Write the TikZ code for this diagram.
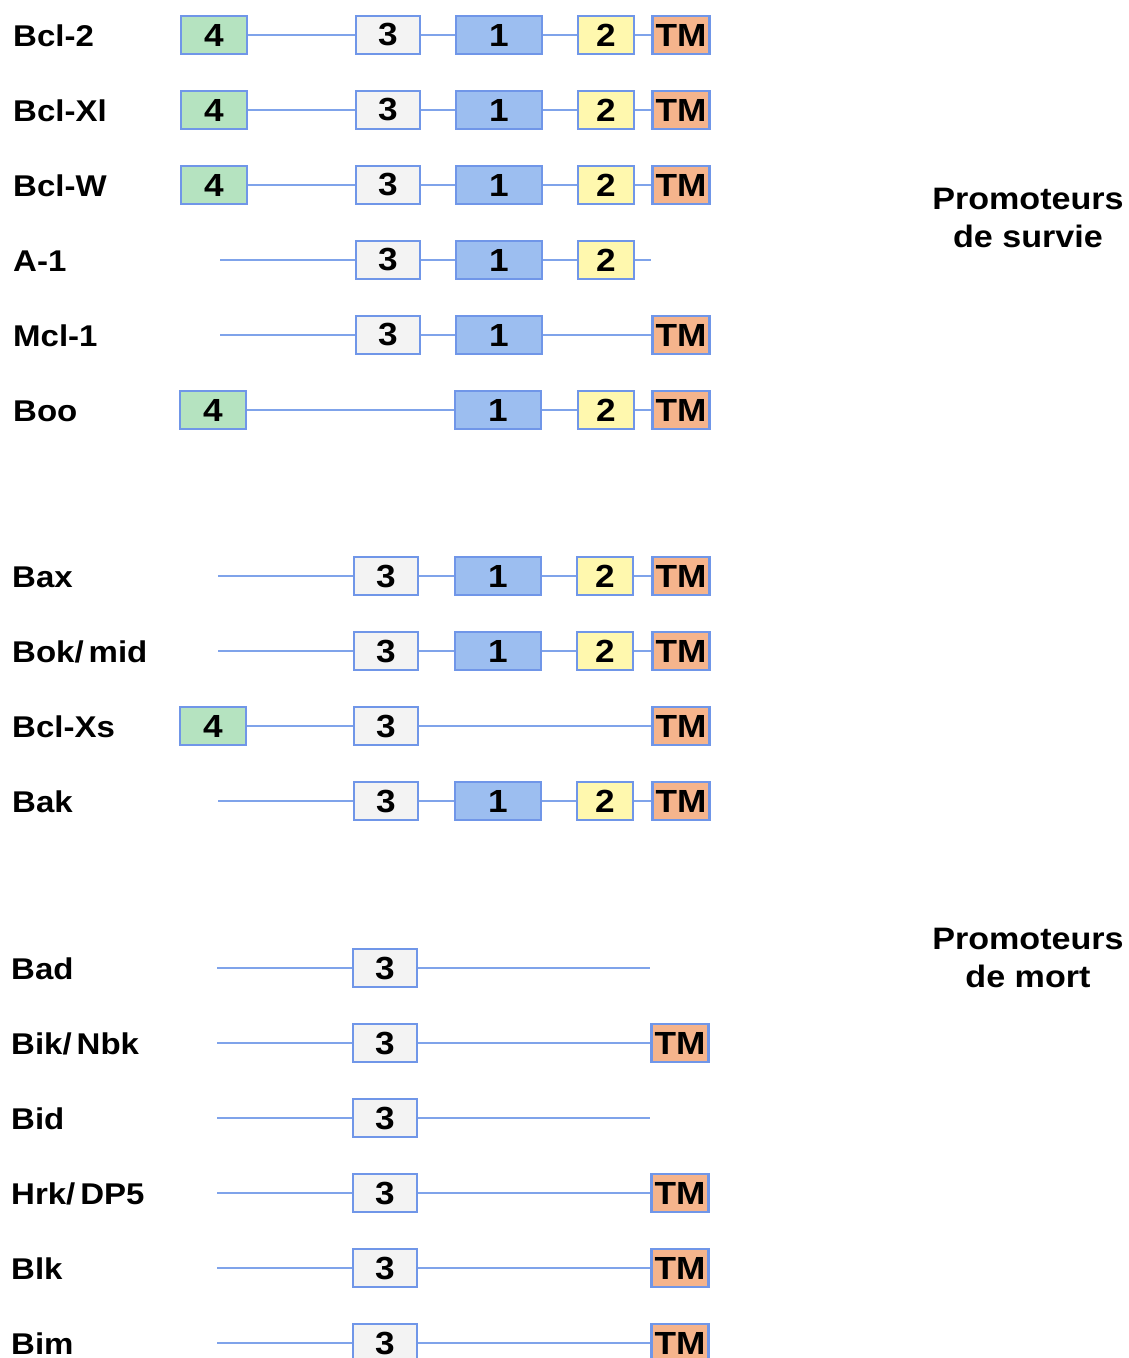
\documentclass[tikz,border=0pt]{standalone}
\usepackage{fontspec}
\newfontfamily\bx{Liberation Sans Bold}[FakeStretch=1.1]
\definecolor{c4}{HTML}{B5E3C0}
\definecolor{c3}{HTML}{F3F3F3}
\definecolor{c1}{HTML}{9CBEF0}
\definecolor{c2}{HTML}{FFF8AE}
\definecolor{ctm}{HTML}{F5B48C}
\definecolor{bord}{HTML}{7096E8}
\definecolor{lnc}{HTML}{7FA3EA}
\tikzset{
  dom/.style={draw=bord, line width=2.2pt, minimum height=38pt, inner sep=0pt,
    font={\bx\fontsize{32}{36}\selectfont}},
  d4/.style={dom, fill=c4, minimum width=66pt},
  d3/.style={dom, fill=c3, minimum width=64pt},
  d1/.style={dom, fill=c1, minimum width=86pt},
  d2/.style={dom, fill=c2, minimum width=56pt},
  dtm/.style={dom, fill=ctm, minimum width=57pt},
  lnk/.style={draw=lnc, line width=2pt},
  lab/.style={anchor=base west, inner sep=0pt, font={\bx\fontsize{30}{34}\selectfont}},
  grp/.style={align=center, inner sep=0pt, font={\bx\fontsize{31}{38}\selectfont}}
}
\begin{document}
\begin{tikzpicture}[x=1pt,y=-1pt]
\useasboundingbox (0,0) rectangle (1129,1358);
\clip (0,0) rectangle (1129,1358);
\fill[white] (0,0) rectangle (1129,1358);
% Bcl-2
\node[lab] (l1) at (13,46) {Bcl-2};
\node[d4] (a4) at (214,35) {4};
\node[d3] (a3) at (388,35) {3};
\node[d1] (a1) at (499,35) {1};
\node[d2] (a2) at (606,35) {2};
\node[dtm] (atm) at (681,35) {TM};
\draw[lnk] (a4) -- (a3) (a3) -- (a1) (a1) -- (a2) (a2) -- (atm);
% Bcl-Xl
\node[lab] (l2) at (13,121) {Bcl-Xl};
\node[d4] (b4) at (214,110) {4};
\node[d3] (b3) at (388,110) {3};
\node[d1] (b1) at (499,110) {1};
\node[d2] (b2) at (606,110) {2};
\node[dtm] (btm) at (681,110) {TM};
\draw[lnk] (b4) -- (b3) (b3) -- (b1) (b1) -- (b2) (b2) -- (btm);
% Bcl-W
\node[lab] (l3) at (13,196) {Bcl-W};
\node[d4] (c4n) at (214,185) {4};
\node[d3] (c3n) at (388,185) {3};
\node[d1] (c1n) at (499,185) {1};
\node[d2] (c2n) at (606,185) {2};
\node[dtm] (ctmn) at (681,185) {TM};
\draw[lnk] (c4n) -- (c3n) (c3n) -- (c1n) (c1n) -- (c2n) (c2n) -- (ctmn);
% A-1
\node[lab] (l4) at (13,271) {A-1};
\coordinate (ds) at (220,260);
\node[d3] (d3n) at (388,260) {3};
\node[d1] (d1n) at (499,260) {1};
\node[d2] (d2n) at (606,260) {2};
\coordinate (de) at (651,260);
\draw[lnk] (ds) -- (d3n) (d3n) -- (d1n) (d1n) -- (d2n) (d2n) -- (de);
% Mcl-1
\node[lab] (l5) at (13,346) {Mcl-1};
\coordinate (es) at (220,335);
\node[d3] (e3) at (388,335) {3};
\node[d1] (e1) at (499,335) {1};
\node[dtm] (etm) at (681,335) {TM};
\draw[lnk] (es) -- (e3) (e3) -- (e1) (e1) -- (etm);
% Boo
\node[lab] (l6) at (13,421) {Boo};
\node[d4] (f4) at (213,410) {4};
\node[d1] (f1) at (498,410) {1};
\node[d2] (f2) at (606,410) {2};
\node[dtm] (ftm) at (681,410) {TM};
\draw[lnk] (f4) -- (f1) (f1) -- (f2) (f2) -- (ftm);
% group label
\node[grp] (g1) at (1028,218) {Promoteurs\\de survie};
% Bax
\node[lab] (l7) at (12,587) {Bax};
\coordinate (gs) at (218,576);
\node[d3] (g3) at (386,576) {3};
\node[d1] (g1b) at (498,576) {1};
\node[d2] (g2) at (605,576) {2};
\node[dtm] (gtm) at (681,576) {TM};
\draw[lnk] (gs) -- (g3) (g3) -- (g1b) (g1b) -- (g2) (g2) -- (gtm);
% Bok/mid
\node[lab] (l8) at (12,662) {Bok/\,mid};
\coordinate (hs) at (218,651);
\node[d3] (h3) at (386,651) {3};
\node[d1] (h1) at (498,651) {1};
\node[d2] (h2) at (605,651) {2};
\node[dtm] (htm) at (681,651) {TM};
\draw[lnk] (hs) -- (h3) (h3) -- (h1) (h1) -- (h2) (h2) -- (htm);
% Bcl-Xs
\node[lab] (l9) at (12,737) {Bcl-Xs};
\node[d4] (i4) at (213,726) {4};
\node[d3] (i3) at (386,726) {3};
\node[dtm] (itm) at (681,726) {TM};
\draw[lnk] (i4) -- (i3) (i3) -- (itm);
% Bak
\node[lab] (l10) at (12,812) {Bak};
\coordinate (js) at (218,801);
\node[d3] (j3) at (386,801) {3};
\node[d1] (j1) at (498,801) {1};
\node[d2] (j2) at (605,801) {2};
\node[dtm] (jtm) at (681,801) {TM};
\draw[lnk] (js) -- (j3) (j3) -- (j1) (j1) -- (j2) (j2) -- (jtm);
% Bad
\node[lab] (l11) at (11,979) {Bad};
\coordinate (ks) at (217,968);
\node[d3] (k3) at (385,968) {3};
\coordinate (ke) at (650,968);
\draw[lnk] (ks) -- (k3) (k3) -- (ke);
% Bik/Nbk
\node[lab] (l12) at (11,1054) {Bik/\,Nbk};
\coordinate (ls) at (217,1043);
\node[d3] (l3b) at (385,1043) {3};
\node[dtm] (ltm) at (680,1043) {TM};
\draw[lnk] (ls) -- (l3b) (l3b) -- (ltm);
% Bid
\node[lab] (l13) at (11,1129) {Bid};
\coordinate (ms) at (217,1118);
\node[d3] (m3) at (385,1118) {3};
\coordinate (me) at (650,1118);
\draw[lnk] (ms) -- (m3) (m3) -- (me);
% Hrk/DP5
\node[lab] (l14) at (11,1204) {Hrk/\,DP5};
\coordinate (ns) at (217,1193);
\node[d3] (n3) at (385,1193) {3};
\node[dtm] (ntm) at (680,1193) {TM};
\draw[lnk] (ns) -- (n3) (n3) -- (ntm);
% Blk
\node[lab] (l15) at (11,1279) {Blk};
\coordinate (os) at (217,1268);
\node[d3] (o3) at (385,1268) {3};
\node[dtm] (otm) at (680,1268) {TM};
\draw[lnk] (os) -- (o3) (o3) -- (otm);
% Bim
\node[lab] (l16) at (11,1354) {Bim};
\coordinate (ps) at (217,1343);
\node[d3] (p3) at (385,1343) {3};
\node[dtm] (ptm) at (680,1343) {TM};
\draw[lnk] (ps) -- (p3) (p3) -- (ptm);
% group label
\node[grp] (g2lab) at (1028,958) {Promoteurs\\de mort};
\end{tikzpicture}
\end{document}
